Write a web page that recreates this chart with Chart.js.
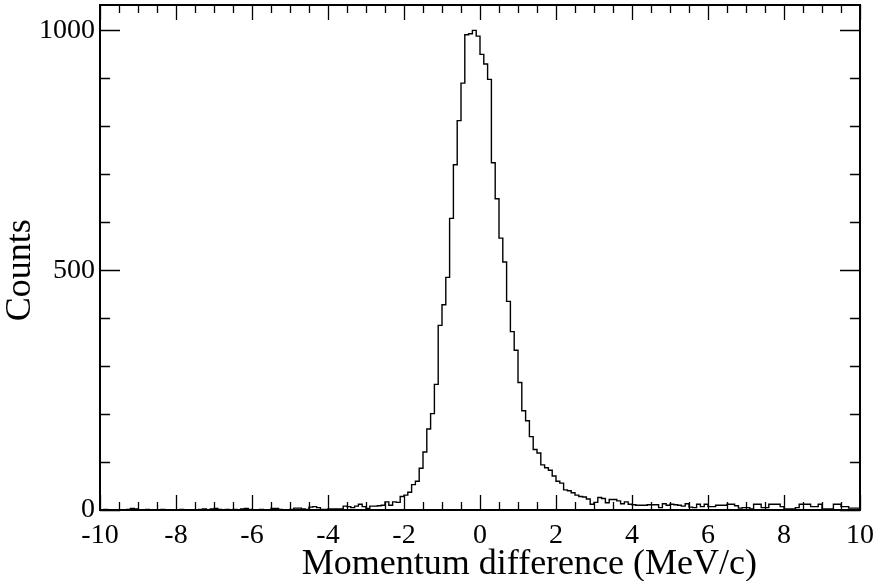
<!DOCTYPE html>
<html>
<head>
<meta charset="utf-8">
<script src="https://cdn.jsdelivr.net/npm/chart.js@4"></script>
<style>
  html, body { margin: 0; padding: 0; background: #ffffff; }
  #wrap { width: 877px; height: 581px; position: relative; }
</style>
</head>
<body>
<div id="wrap"><canvas id="c" width="877" height="581"></canvas></div>
<script>
// ---- Data ----
const xMin = -10;
const xMax = 10;
const binWidth = 0.1;
// counts per 0.1 MeV/c bin, from -10 to +10 (200 bins)
const countsNegative = [
  0, 0, 1, 0, 0, 0, 0, 0, 1, 3,          // -10 .. -9
  2, 0, 0, 1, 0, 0, 0, 1, 0, 0,          // -9 .. -8
  0, 0, 1, 0, 0, 0, 0, 1, 2, 0,          // -8 .. -7
  2, 3, 1, 0, 1, 0, 1, 0, 2, 3,          // -7 .. -6
  1, 0, 0, 1, 0, 0, 3, 3, 1, 0,          // -6 .. -5
  0, 1, 4, 4, 2, 1, 6, 7, 5, 1,          // -5 .. -4
  1, 2, 2, 2, 2, 8, 7, 5, 8, 12,         // -4 .. -3
  7, 3, 8, 8, 9, 10, 17, 10, 17, 16,     // -3 .. -2
  28, 31, 37, 53, 60, 87, 121, 169, 201, 262,   // -2 .. -1
  385, 428, 485, 608, 720, 812, 890, 991, 993, 1000 // -1 .. 0
];
const countsPositive = [
  988, 950, 930, 898, 724, 649, 567, 517, 435, 372, // 0 .. 1
  333, 266, 207, 186, 153, 126, 119, 94, 88, 83,    // 1 .. 2
  71, 60, 56, 42, 40, 36, 31, 28, 27, 23,           // 2 .. 3
  12, 16, 26, 24, 15, 22, 22, 19, 13, 17,           // 3 .. 4
  12, 11, 10, 10, 10, 11, 11, 11, 5, 13,            // 4 .. 5
  10, 12, 11, 10, 8, 13, 6, 5, 12, 7,               // 5 .. 6
  12, 7, 7, 10, 10, 10, 12, 12, 9, 4,               // 6 .. 7
  5, 5, 2, 12, 12, 5, 5, 12, 12, 12,                // 7 .. 8
  7, 2, 2, 2, 5, 12, 12, 12, 7, 7,                  // 8 .. 9
  12, 2, 2, 2, 12, 12, 7, 7, 4, 4                   // 9 .. 10
];
const counts = countsNegative.concat(countsPositive);

const xTickStep = 2;
const xMinorStep = 0.5;
const yTickValues = [0, 500, 1000];
const yMinorStep = 100;
const yMax = 1053;

const xTitle = 'Momentum difference (MeV/c)';
const yTitle = 'Counts';

// ---- Build step points (left edge of each bin + closing right edge) ----
const stepPoints = counts.map((c, i) => ({ x: xMin + i * binWidth, y: c }));
stepPoints.push({ x: xMax, y: counts[counts.length - 1] });

const FONT = 'Liberation Serif, "Times New Roman", serif';

// Frame, inward ticks on all four sides, and axis titles
const framePlugin = {
  id: 'frame',
  afterDatasetsDraw(chart) {
    const { ctx, chartArea: a, scales: { x, y } } = chart;
    ctx.save();
    ctx.strokeStyle = '#000';
    ctx.lineWidth = 1.3;
    ctx.beginPath();
    const nx = Math.round((xMax - xMin) / xMinorStep);
    for (let i = 0; i <= nx; i++) {
      const v = xMin + i * xMinorStep;
      const isMajor = Math.abs(v / xTickStep - Math.round(v / xTickStep)) < 1e-6;
      const len = isMajor ? 15 : 8;
      const px = Math.round(x.getPixelForValue(v)) + 0.5;
      ctx.moveTo(px, a.bottom); ctx.lineTo(px, a.bottom - len);
      ctx.moveTo(px, a.top); ctx.lineTo(px, a.top + len);
    }
    for (let v = 0; v <= yMax; v += yMinorStep) {
      const isMajor = yTickValues.includes(v);
      const len = isMajor ? 20 : 10;
      const py = Math.round(y.getPixelForValue(v)) + 0.5;
      ctx.moveTo(a.left, py); ctx.lineTo(a.left + len, py);
      ctx.moveTo(a.right, py); ctx.lineTo(a.right - len, py);
    }
    ctx.stroke();
    ctx.lineWidth = 2;
    ctx.strokeRect(a.left, a.top, a.right - a.left, a.bottom - a.top);

    // axis titles
    ctx.fillStyle = '#000';
    ctx.font = '36px ' + FONT;
    ctx.textAlign = 'center';
    ctx.textBaseline = 'middle';
    ctx.fillText(xTitle, x.getPixelForValue(1.3), 565);
    ctx.translate(21, y.getPixelForValue(500));
    ctx.rotate(-Math.PI / 2);
    ctx.fillText(yTitle, 0, 0);
    ctx.restore();
  }
};

new Chart(document.getElementById('c'), {
  type: 'line',
  data: {
    datasets: [{
      data: stepPoints,
      stepped: 'after',
      borderColor: '#000',
      borderWidth: 1.4,
      pointRadius: 0,
      fill: false,
      tension: 0
    }]
  },
  options: {
    responsive: false,
    animation: false,
    devicePixelRatio: 1,
    layout: { padding: { top: 5, right: 17, left: 0, bottom: 0 } },
    plugins: { legend: { display: false }, tooltip: { enabled: false } },
    scales: {
      x: {
        type: 'linear',
        min: xMin,
        max: xMax,
        grid: { display: false, drawTicks: false },
        border: { display: false },
        ticks: {
          stepSize: xTickStep,
          color: '#000',
          font: { family: FONT, size: 28 },
          padding: 9,
          maxRotation: 0,
          autoSkip: false,
          callback: (v) => String(v)
        },
        title: { display: false },
        afterFit: (s) => { s.height = 71; s.paddingLeft = 0; s.paddingRight = 0; }
      },
      y: {
        type: 'linear',
        min: 0,
        max: yMax,
        grid: { display: false, drawTicks: false },
        border: { display: false },
        afterBuildTicks: (s) => { s.ticks = yTickValues.map(v => ({ value: v })); },
        ticks: {
          color: '#000',
          font: { family: FONT, size: 28 },
          padding: 5,
          callback: (v) => String(v)
        },
        title: { display: false },
        afterFit: (s) => { s.width = 100; s.paddingTop = 0; s.paddingBottom = 0; }
      }
    }
  },
  plugins: [framePlugin]
});
</script>
</body>
</html>
